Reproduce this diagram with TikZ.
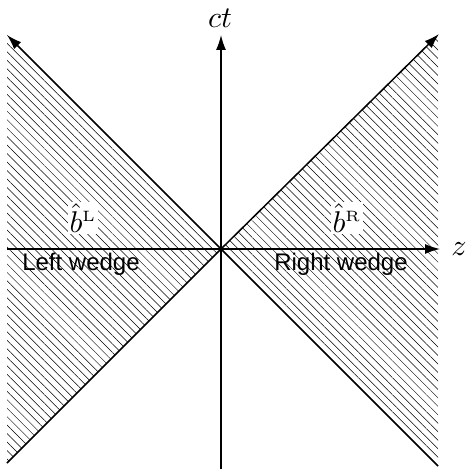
\documentclass[tikz,border=0pt]{standalone}
\usepackage{fontspec}
\newfontfamily\labelfont{Liberation Sans}
\usetikzlibrary{arrows.meta,patterns.meta}
\begin{document}
\begin{tikzpicture}[x=1pt,y=1pt,
  axis/.style={line width=1.3pt,-{Latex[length=15pt,width=10pt]}},
  cone/.style={line width=1.5pt},
  hatch/.style={pattern={Lines[angle=-45,distance=6pt,line width=0.5pt]}},
  wedgelabel/.style={font=\labelfont\fontsize{24}{26}\selectfont,inner sep=0pt},
  opname/.style={fill=white,inner sep=0.5pt,scale=3,transform shape},
  axlabel/.style={inner sep=0pt,scale=3,transform shape}]
\useasboundingbox (0,0) rectangle (471,469);
\coordinate (O) at (221,220);
\coordinate (TL) at (7,434);
\coordinate (BL) at (7,6);
\coordinate (TR) at (439,435);
\coordinate (BR) at (438,3);
\coordinate (RTop) at (438,434);
\coordinate (Zs) at (7,220);
\coordinate (Ze) at (440,220);
\coordinate (Cs) at (221,0);
\coordinate (Ce) at (221,434);
% hatched wedges
\path[hatch] (TL) -- (O) -- (BL) -- cycle;
\path[hatch] (RTop) -- (O) -- (BR) -- cycle;
% axes
\draw[axis] (Zs) -- (Ze);
\draw[axis] (Cs) -- (Ce);
% light cone
\draw[cone,-{Latex[length=15pt,width=10pt]}] (O) -- (TL);
\draw[cone,-{Latex[length=15pt,width=10pt]}] (O) -- (TR);
\draw[cone] (O) -- (BL);
\draw[cone] (O) -- (BR);
% labels
\node[axlabel] (ct) at (220,451) {$ct$};
\node[axlabel] (z) at (459,220) {$z$};
\node[opname] (bL) at (83,251) {$\hat b^{\scriptscriptstyle\mathrm{L}}$};
\node[opname] (bR) at (347,251) {$\hat b^{\scriptscriptstyle\mathrm{R}}$};
\node[wedgelabel] (lw) at (81,205) {Left wedge};
\node[wedgelabel] (rw) at (341,205) {Right wedge};
\end{tikzpicture}
\end{document}
